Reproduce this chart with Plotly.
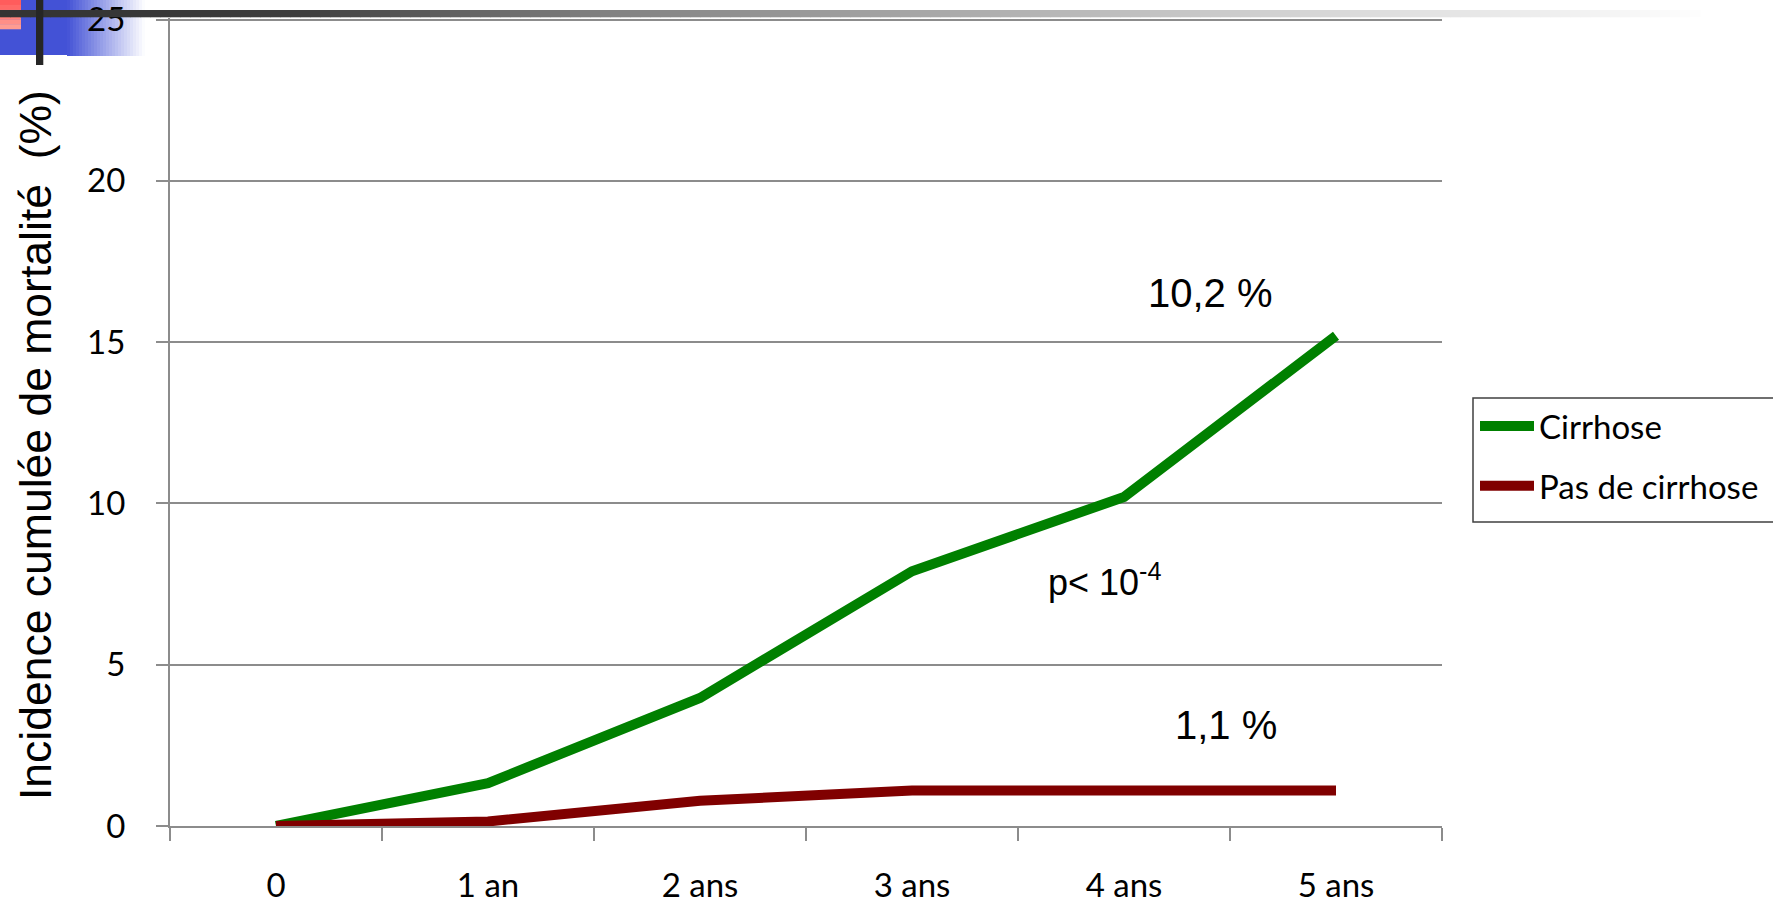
import plotly.graph_objects as go

# Time points and cumulative mortality (%)
periods = ["0", "1 an", "2 ans", "3 ans", "4 ans", "5 ans"]
cirrhose = [0.0, 1.33, 3.97, 7.9, 10.2, 15.2]
pas_de_cirrhose = [0.0, 0.14, 0.78, 1.1, 1.1, 1.1]
y_ticks = [0, 5, 10, 15, 20, 25]
y_max = 25.05  # a hair above the last tick so its gridline is kept

W, H = 1773, 900
L, R, T, B = 170, 1442, 18, 826  # plot area in pixels


def px(x):
    return (x - L) / (R - L)


def py(y):
    return (B - y) / (B - T)


def hexmix(c1, c2, t):
    a = [int(c1[i:i + 2], 16) for i in (1, 3, 5)]
    b = [int(c2[i:i + 2], 16) for i in (1, 3, 5)]
    return "rgb({},{},{})".format(*[round(a[k] + (b[k] - a[k]) * t) for k in range(3)])


def rect(x0, y0, x1, y1, color, layer="below"):
    return dict(type="rect", xref="paper", yref="paper",
                x0=px(x0), x1=px(x1), y0=py(y1), y1=py(y0),
                fillcolor=color, line=dict(width=0), layer=layer)


fig = go.Figure()
fig.add_trace(go.Scatter(x=periods, y=cirrhose, name="Cirrhose", mode="lines",
                         line=dict(color="#008000", width=10), legendgroup="a"))
fig.add_trace(go.Scatter(x=periods, y=pas_de_cirrhose, name="Pas de cirrhose", mode="lines",
                         line=dict(color="#800000", width=10), legendgroup="b"))

shapes = []
# slide header ornament: blue block fading to white
shapes.append(rect(0, 0, 67, 55, "#4352d6"))
n = 26
for i in range(n):
    x0 = 67 + i * 3
    shapes.append(rect(x0, 0, x0 + 3.2, 56, hexmix("#4352d6", "#ffffff", (i + 0.5) / n)))
# pink corner square
for i in range(6):
    y0 = i * 29 / 6
    shapes.append(rect(0, y0, 21, y0 + 29 / 6 + 0.3, hexmix("#ff5c5c", "#ff9c92", i / 5)))
# dark horizontal rule fading out to the right
stops = [(0, 0x33), (300, 0x3d), (400, 0x55), (600, 0x80), (1200, 0xc8), (1400, 0xe0), (1700, 0xfd)]
step = 10
for x0 in range(0, 1700, step):
    xm = x0 + step / 2
    for (a, ca), (b, cb) in zip(stops[:-1], stops[1:]):
        if a <= xm <= b:
            v = round(ca + (cb - ca) * (xm - a) / (b - a))
            break
    shapes.append(rect(x0, 10, x0 + step + 0.5, 17.3, "rgb({0},{0},{0})".format(v), layer="above"))
# vertical dark rule
shapes.append(rect(36, 0, 43.3, 65, "#262626", layer="above"))
# legend frame (runs off the right edge)
shapes.append(dict(type="rect", xref="paper", yref="paper",
                   x0=px(1473), x1=px(1800), y0=py(522), y1=py(398),
                   fillcolor="rgba(0,0,0,0)", line=dict(color="#404040", width=1.5), layer="above"))

tick_font = dict(family="Lato", size=33, color="#000000")
arial = "Liberation Sans"

fig.update_layout(
    width=W, height=H,
    margin=dict(l=L, r=W - R, t=T, b=H - B, pad=0, autoexpand=False),
    paper_bgcolor="white", plot_bgcolor="white",
    shapes=shapes,
    showlegend=True,
    legend=dict(x=px(1475), y=py(398), xanchor="left", yanchor="top",
                bgcolor="rgba(0,0,0,0)", borderwidth=0,
                font=dict(family="Lato", size=33, color="#000000"),
                itemwidth=54, tracegroupgap=14),
    xaxis=dict(type="category", categoryorder="array", categoryarray=periods,
               range=[-0.5, 5.5], tickson="boundaries", ticks="outside", ticklen=13,
               tickwidth=2, tickcolor="#8c8c8c", showline=True, linecolor="#8c8c8c",
               linewidth=2, showgrid=False, tickfont=tick_font, ticklabelstandoff=29,
               ticklabeloverflow="allow", automargin=False),
    yaxis=dict(range=[0, y_max], tickvals=y_ticks, ticks="outside", ticklen=12, tickwidth=2,
               tickcolor="#8c8c8c", showline=True, linecolor="#8c8c8c", linewidth=2,
               showgrid=True, gridcolor="#8c8c8c", gridwidth=2, zeroline=False,
               tickfont=tick_font, ticklabelstandoff=24, ticklabeloverflow="allow",
               automargin=False),
    annotations=[
        dict(text="Incidence cumulée de mortalité  (%)", textangle=-90,
             xref="paper", yref="paper", x=px(35), y=py(445),
             xanchor="center", yanchor="middle", showarrow=False,
             font=dict(family=arial, size=44.5, color="#000000")),
        dict(text="10,2 %", x=4.406, y=16.53, xref="x", yref="y", showarrow=False,
             xanchor="center", yanchor="middle",
             font=dict(family=arial, size=40, color="#000000")),
        dict(text="p< 10<sup>-4</sup>", x=3.91, y=7.63, xref="x", yref="y", showarrow=False,
             xanchor="center", yanchor="middle",
             font=dict(family=arial, size=36, color="#000000")),
        dict(text="1,1 %", x=4.48, y=3.13, xref="x", yref="y", showarrow=False,
             xanchor="center", yanchor="middle",
             font=dict(family=arial, size=40, color="#000000")),
    ],
)

fig.write_html("out.html")
